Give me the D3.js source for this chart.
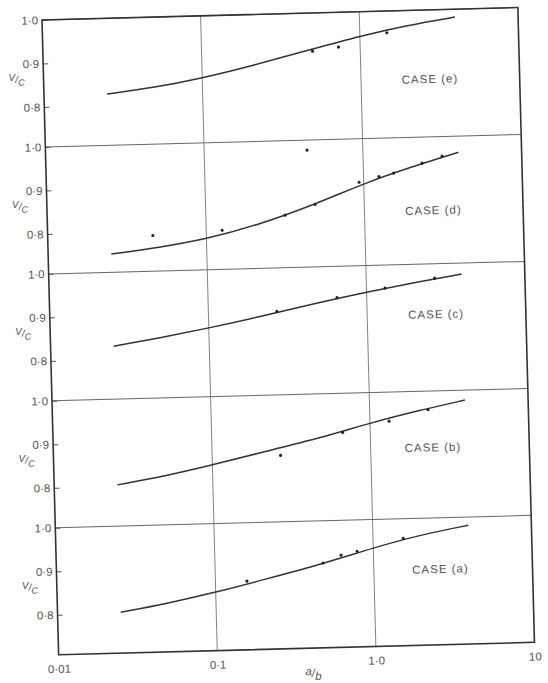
<!DOCTYPE html>
<meta charset="utf-8">
<style>
body { margin: 0; background: #fff; }
text { font-family: "Liberation Sans", "DejaVu Sans", sans-serif; fill: #555; }
.tick text { font-size: 11.5px; }
.tick line { stroke: #555; }
.domain { display: none; }
</style>
<svg width="548" height="683"></svg>
<script src="https://d3js.org/d3.v7.min.js"></script>
<script>

// values (v/c against a/b, five cases)
var xTicks = [0.01, 0.1, 1, 10];
var xTickLabels = ["0·01", "0·1", "1·0", "10"];
var yTicks = [0.8, 0.9, 1.0];
var yTickLabels = ["0·8", "0·9", "1·0"];
var cases = ["CASE (e)", "CASE (d)", "CASE (c)", "CASE (b)", "CASE (a)"];

var curveX = [0.025, 0.05, 0.1, 0.2, 0.5, 1, 2, 4];
var curveE = [0.826, 0.838, 0.857, 0.881, 0.917, 0.944, 0.966, 0.982];
var curveD = [0.750, 0.762, 0.779, 0.805, 0.853, 0.897, 0.932, 0.963];
var curveC = [0.830, 0.847, 0.866, 0.887, 0.918, 0.939, 0.958, 0.975];
var curveB = [0.803, 0.820, 0.843, 0.868, 0.900, 0.930, 0.955, 0.977];
var curveA = [0.802, 0.820, 0.842, 0.868, 0.903, 0.935, 0.962, 0.981];

var pointsE = [[0.5, 0.912], [0.73, 0.92], [1.48, 0.95]];
var pointsD = [[0.046, 0.79], [0.126, 0.798], [0.316, 0.829], [0.49, 0.852], [0.445, 0.977],
               [0.935, 0.9], [1.25, 0.912], [1.55, 0.919], [2.35, 0.94], [3.15, 0.955]];
var pointsC = [[0.27, 0.9], [0.65, 0.928], [1.31, 0.947], [2.7, 0.967]];
var pointsB = [[0.27, 0.861], [0.67, 0.91], [1.32, 0.933], [2.33, 0.957]];
var pointsA = [[0.158, 0.866], [0.48, 0.903], [0.625, 0.92], [0.79, 0.928], [1.55, 0.955]];

var curves = [curveE, curveD, curveC, curveB, curveA];
var points = [pointsE, pointsD, pointsC, pointsB, pointsA];

// layout: the scan is tilted a little, so the whole frame is turned
var padLeft = 42, padTop = 20, W = 476, panelH = 127;
var H = panelH * 5;
// where each CASE label sits, [a/b, v/c]
var labelAt = [[2.72, 0.839], [2.72, 0.829], [2.72, 0.882], [2.47, 0.868], [2.63, 0.88]];

var svg = d3.select("svg");
var g = svg.append("g").attr("transform", "translate(" + padLeft + "," + padTop + ") rotate(-1.5)");

var x = d3.scaleLog().domain([0.01, 10]).range([0, W]);
var y = d3.scaleLinear().domain([1 - panelH / 435, 1.0]).range([panelH, 0]);

var line = d3.line()
    .x(function(d) { return x(d[0]); })
    .y(function(d) { return y(d[1]); })
    .curve(d3.curveBasis);

// vertical grid at 0.1 and 1.0
g.selectAll(".vgrid")
  .data([0.1, 1])
  .enter().append("line")
    .attr("x1", function(d) { return x(d); })
    .attr("x2", function(d) { return x(d); })
    .attr("y1", 0).attr("y2", H)
    .attr("stroke", "#777").attr("stroke-width", 0.9);

cases.forEach(function(name, i) {
  var p = g.append("g").attr("transform", "translate(0," + (i * panelH) + ")");

  // 1.0 line which is also the panel divider
  p.append("line")
    .attr("x1", 0).attr("x2", W)
    .attr("y1", y(1)).attr("y2", y(1))
    .attr("stroke", "#666").attr("stroke-width", 1);

  p.append("g")
    .call(d3.axisLeft(y).tickValues(yTicks).tickSize(-5).tickPadding(4)
      .tickFormat(function(d, k) { return yTickLabels[k]; }));

  // v/c label
  var t = p.append("text")
    .attr("x", -27).attr("y", y(0.857))
    .attr("text-anchor", "middle")
    .style("font-size", "10px").style("font-style", "italic");
  t.append("tspan").attr("dy", -2).text("V");
  t.append("tspan").attr("dy", 2).text("/");
  t.append("tspan").attr("dy", 3).style("font-size", "9px").text("C");

  var data = curveX.map(function(v, k) { return [v, curves[i][k]]; });
  p.append("path")
    .datum(data)
    .attr("d", line)
    .attr("fill", "none")
    .attr("stroke", "#333")
    .attr("stroke-width", 1.5);

  p.selectAll("circle")
    .data(points[i])
    .enter().append("circle")
      .attr("cx", function(d) { return x(d[0]); })
      .attr("cy", function(d) { return y(d[1]); })
      .attr("r", 1.6)
      .attr("fill", "#222");

  p.append("text")
    .attr("x", x(labelAt[i][0]))
    .attr("y", y(labelAt[i][1]))
    .attr("text-anchor", "middle")
    .attr("dominant-baseline", "middle")
    .style("font-size", "11.5px")
    .style("letter-spacing", "1px")
    .text(name);
});

// x axis
g.append("g")
  .attr("transform", "translate(0," + H + ")")
  .call(d3.axisBottom(x).tickValues(xTicks).tickSize(0).tickPadding(10)
    .tickFormat(function(d, k) { return xTickLabels[k]; }));

var xt = g.append("text")
  .attr("x", x(0.4)).attr("y", H + 29)
  .attr("text-anchor", "middle")
  .style("font-size", "11.5px").style("font-style", "italic");
xt.append("tspan").attr("dy", -2).text("a");
xt.append("tspan").attr("dy", 2).text("/");
xt.append("tspan").attr("dy", 3).text("b");

// outer frame
g.append("rect")
  .attr("x", 0).attr("y", 0).attr("width", W).attr("height", H)
  .attr("fill", "none").attr("stroke", "#333").attr("stroke-width", 1.6);

</script>
